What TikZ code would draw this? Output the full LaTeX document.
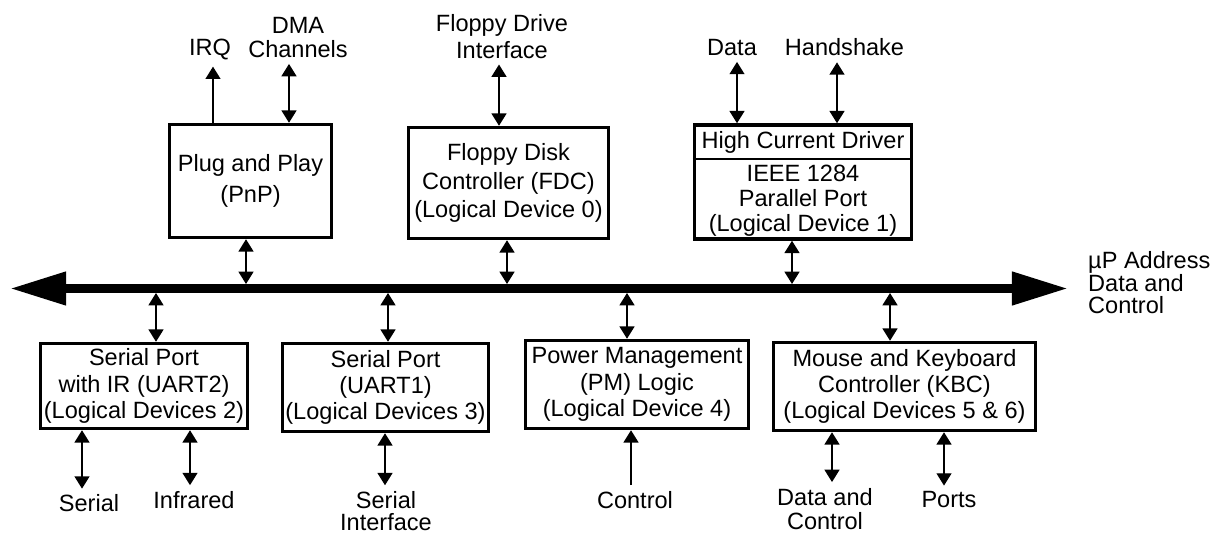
\documentclass[tikz,border=0pt]{standalone}
\usepackage{fontspec}
\setmainfont{Liberation Sans}
\usetikzlibrary{arrows.meta, positioning, calc}

\tikzset{
  box/.style={draw, line width=2pt, align=center, inner sep=0pt},
  lbl/.style={align=center},
  io/.style={line width=0.8pt, arrows={Triangle[width=8.5pt,length=7pt]-Triangle[width=8.5pt,length=7pt]}},
  oneway/.style={line width=0.8pt, arrows={-Triangle[width=8.5pt,length=7pt]}},
  bus/.style={line width=5.1pt, arrows={Triangle[width=18pt,length=32pt]-Triangle[width=18pt,length=32pt]}},
}

\begin{document}
\begin{tikzpicture}[x=0.02cm, y=-0.02cm, font=\fontsize{13.4}{15}\selectfont]
    \useasboundingbox (0,0) rectangle (1222,533);

    % Draw the processor bus
    \coordinate (busL) at (10,288.5);
    \coordinate (busR) at (1068,288.5);
    \coordinate (bustop) at (0,284);
    \coordinate (busbot) at (0,293);
    \draw[bus] (busL) -- (busR);
    \node[anchor=west, align=left] (buslbl) at (1082,283) {µP Address\\[-2.2pt]Data and\\[-2.2pt]Control};

    % Draw the devices above the bus
    \node[box, minimum width=3.24cm, minimum height=2.26cm] (pnp) at (250.5,181) {Plug and Play\\[3pt](PnP)};
    \node[box, minimum width=4.0cm, minimum height=2.22cm] (fdc) at (508.5,183) {Floppy Disk\\[1pt]Controller (FDC)\\[1pt](Logical Device 0)};
    \node[box, minimum width=4.34cm, minimum height=2.28cm] (ppt) at (803,182) {};
    \coordinate (pptdiv) at (0,159);
    \draw[line width=0.8pt] (ppt.west |- pptdiv) -- (ppt.east |- pptdiv);
    \node (hcd) at (803,142) {High Current Driver};
    \node[align=center] (ieee) at (803,201) {IEEE 1284\\[-0.8pt]Parallel Port\\[-0.8pt](Logical Device 1)};

    % Draw the devices below the bus
    \node[box, minimum width=4.14cm, minimum height=1.7cm] (uart2) at (144,386) {Serial Port\\with IR (UART2)\\(Logical Devices 2)};
    \node[box, minimum width=4.12cm, minimum height=1.76cm] (uart1) at (385.5,387.5) {Serial Port\\(UART1)\\(Logical Devices 3)};
    \node[box, minimum width=4.46cm, minimum height=1.76cm] (pm) at (637,384.5) {Power Management\\(PM) Logic\\(Logical Device 4)};
    \node[box, minimum width=5.24cm, minimum height=1.76cm] (kbc) at (904.5,386.5) {Mouse and Keyboard\\Controller (KBC)\\(Logical Devices 5 \& 6)};

    % Outside signals
    \node[lbl] (irq) at (210,50) {IRQ};
    \node[lbl] (dma) at (298,37.5) {DMA\\[-1.3pt]Channels};
    \node[lbl] (fdi) at (502,36.5) {Floppy Drive\\Interface};
    \node[lbl] (pdata) at (732,47.5) {Data};
    \node[lbl] (hshk) at (844.5,47.5) {Handshake};
    \node[lbl] (ser) at (89,503.5) {Serial};
    \node[lbl] (ir) at (194,500) {Infrared};
    \node[lbl] (sif) at (386,511) {Serial\\[-2.6pt]Interface};
    \node[lbl] (ctl) at (635,500) {Control};
    \node[lbl] (kdc) at (825,509) {Data and\\[-1.2pt]Control};
    \node[lbl] (kports) at (949,500) {Ports};

    % Draw the bus taps
    \foreach \b/\x in {pnp/246, fdc/507, ppt/792} {
        \coordinate (tap) at (\x,0);
        \draw[io] (\b.south -| tap) -- (bustop -| tap);
    }
    \foreach \b/\x in {uart2/156, uart1/388, pm/627, kbc/890} {
        \coordinate (tap) at (\x,0);
        \draw[io] (busbot -| tap) -- (\b.north -| tap);
    }

    % Draw the outside connections
    \coordinate (tirq) at (213,0);
    \draw[oneway] (pnp.north -| tirq) -- (irq.south -| tirq);
    \foreach \b/\l/\x in {pnp/dma/289, fdc/fdi/499, ppt/pdata/737, ppt/hshk/837} {
        \coordinate (tap) at (\x,0);
        \draw[io] (\b.north -| tap) -- (\l.south -| tap);
    }
    \foreach \b/\l/\x in {uart2/ser/82, uart2/ir/190, uart1/sif/385, kbc/kdc/832, kbc/kports/944} {
        \coordinate (tap) at (\x,0);
        \draw[io] (\b.south -| tap) -- (\l.north -| tap);
    }
    \coordinate (tctl) at (631,0);
    \draw[oneway] (ctl.north -| tctl) -- (pm.south -| tctl);
\end{tikzpicture}
\end{document}
